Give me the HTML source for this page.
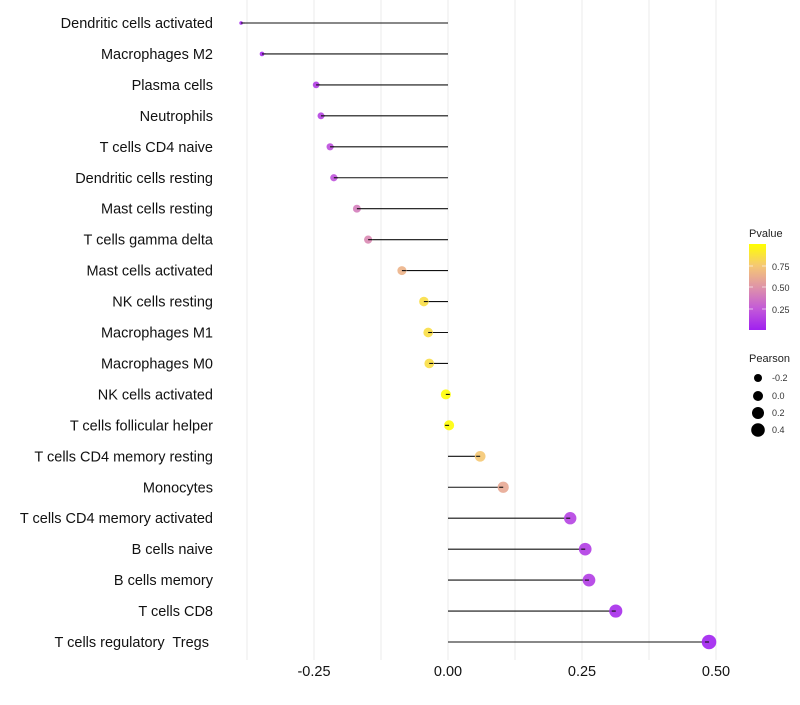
<!DOCTYPE html>
<html><head><meta charset="utf-8"><style>
body{margin:0;background:#fff;font-family:"Liberation Sans",sans-serif;}
text{white-space:pre;}
</style></head><body>
<svg id="chart" width="800" height="700" xmlns="http://www.w3.org/2000/svg" style="font-family:'Liberation Sans',sans-serif">
<g id="grid"></g>
<g id="marks"></g>
<g id="ylabels"></g>
<g id="xlabels"></g>
<g>
<defs><linearGradient id="pg" x1="0" y1="1" x2="0" y2="0">
<stop offset="0" stop-color="#a020f0"/><stop offset="0.25" stop-color="#c35ad8"/><stop offset="0.5" stop-color="#df94a8"/><stop offset="0.75" stop-color="#f5c873"/><stop offset="1" stop-color="#ffff00"/></linearGradient></defs>
<text x="749" y="237" font-size="11" fill="#222">Pvalue</text>
<rect x="749" y="244" width="17" height="86" fill="url(#pg)"/>
<line x1="749" y1="266" x2="753" y2="266" stroke="#fff" opacity=".6"/><line x1="762" y1="266" x2="766" y2="266" stroke="#fff" opacity=".6"/>
<line x1="749" y1="287" x2="753" y2="287" stroke="#fff" opacity=".6"/><line x1="762" y1="287" x2="766" y2="287" stroke="#fff" opacity=".6"/>
<line x1="749" y1="309" x2="753" y2="309" stroke="#fff" opacity=".6"/><line x1="762" y1="309" x2="766" y2="309" stroke="#fff" opacity=".6"/>
<text x="772" y="270" font-size="9" fill="#333">0.75</text>
<text x="772" y="291" font-size="9" fill="#333">0.50</text>
<text x="772" y="313" font-size="9" fill="#333">0.25</text>
</g>
<g>
<text x="749" y="362" font-size="11" fill="#222">Pearson</text>
<circle cx="758" cy="378" r="4" fill="#000"/><text x="772" y="381" font-size="9" fill="#333">-0.2</text>
<circle cx="758" cy="396" r="5" fill="#000"/><text x="772" y="399" font-size="9" fill="#333">0.0</text>
<circle cx="758" cy="413" r="6" fill="#000"/><text x="772" y="416" font-size="9" fill="#333">0.2</text>
<circle cx="758" cy="430" r="6.8" fill="#000"/><text x="772" y="433" font-size="9" fill="#333">0.4</text>
</g>
</svg>
<script>
const categories=["Dendritic cells activated","Macrophages M2","Plasma cells","Neutrophils","T cells CD4 naive","Dendritic cells resting","Mast cells resting","T cells gamma delta","Mast cells activated","NK cells resting","Macrophages M1","Macrophages M0","NK cells activated","T cells follicular helper","T cells CD4 memory resting","Monocytes","T cells CD4 memory activated","B cells naive","B cells memory","T cells CD8","T cells regulatory  Tregs "];
const pearson=[-0.386,-0.347,-0.246,-0.237,-0.220,-0.213,-0.170,-0.149,-0.086,-0.045,-0.037,-0.035,-0.004,0.002,0.060,0.103,0.228,0.256,0.263,0.313,0.487];
const pvalue=[0.02,0.04,0.12,0.15,0.2,0.22,0.4,0.45,0.65,0.85,0.85,0.85,0.99,0.99,0.75,0.6,0.15,0.12,0.12,0.05,0.01];
const xTicks=[-0.25,0,0.25,0.5];
const xTickLabels=["-0.25","0.00","0.25","0.50"];
const NS="http://www.w3.org/2000/svg";
const x=v=>448+v*536;
const y=i=>23+i*30.95;
const r=v=>Math.sqrt(3.2+(v+0.386)/0.873*50);
const stops=[[0,[160,32,240]],[0.25,[195,90,216]],[0.5,[223,148,168]],[0.75,[245,200,115]],[1,[255,255,0]]];
function col(p){for(let k=1;k<stops.length;k++){if(p<=stops[k][0]){const a=stops[k-1],b=stops[k],t=(p-a[0])/(b[0]-a[0]);return "rgb("+a[1].map((c,j)=>Math.round(c+(b[1][j]-c)*t)).join(",")+")";}}return "rgb(255,255,0)";}
function mk(tag,attrs,parent){const e=document.createElementNS(NS,tag);for(const k in attrs)e.setAttribute(k,attrs[k]);parent.appendChild(e);return e;}
const grid=document.getElementById('grid'),marks=document.getElementById('marks'),yl=document.getElementById('ylabels'),xl=document.getElementById('xlabels');
for(let g=-0.375;g<=0.51;g+=0.125){const l=mk('line',{x1:x(g),x2:x(g),y1:0,y2:660,stroke:'#ebebeb','stroke-width':1},grid);

}
categories.forEach((c,i)=>{
const t=mk('text',{x:213,y:y(i)+5,'text-anchor':'end','font-size':14.5,fill:'#111'},yl);t.textContent=c;


const s=mk('line',{x1:x(pearson[i]),x2:x(0),y1:y(i),y2:y(i),stroke:'#111','stroke-width':1.1},marks);


const d=mk('circle',{cx:x(pearson[i]),cy:y(i),r:r(pearson[i]),fill:col(pvalue[i]),'fill-opacity':0.9},marks);


mk('line',{x1:x(pearson[i]),x2:x(pearson[i])+(pearson[i]<0?4:-4),y1:y(i),y2:y(i),stroke:'#111','stroke-width':1.1},marks);
});
xTicks.forEach((v,i)=>{const t=mk('text',{x:x(v),y:676,'text-anchor':'middle','font-size':14.5,fill:'#111'},xl);t.textContent=xTickLabels[i];

});
</script>
</body></html>
